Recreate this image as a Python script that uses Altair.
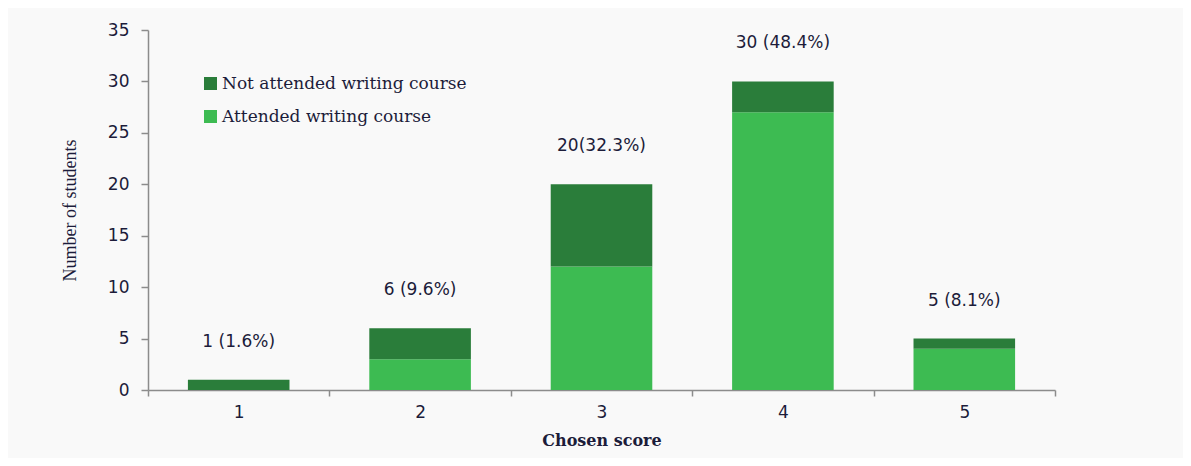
import altair as alt
import pandas as pd

scores = ["1", "2", "3", "4", "5"]
attended = [0, 3, 12, 27, 4]
not_attended = [1, 3, 8, 3, 1]
bar_labels = ["1 (1.6%)", "6 (9.6%)", "20(32.3%)", "30 (48.4%)", "5 (8.1%)"]
series = ["Not attended writing course", "Attended writing course"]
colors = ["#2a7d3a", "#3dbb52"]

rows = []
for s, a, n in zip(scores, attended, not_attended):
    rows.append({"score": s, "group": series[1], "count": a, "ord": 0})
    rows.append({"score": s, "group": series[0], "count": n, "ord": 1})
df = pd.DataFrame(rows)

lab = pd.DataFrame({
    "score": scores,
    "total": [a + n for a, n in zip(attended, not_attended)],
    "label": bar_labels,
})

TXT = "#1c1c3a"

x_enc = alt.X(
    "score:O",
    title="Chosen score",
    scale=alt.Scale(paddingInner=0, paddingOuter=0),
    axis=alt.Axis(
        labelAngle=0, tickBand="extent", tickSize=6, labelPadding=8,
        labelFont="DejaVu Sans", labelFontSize=17, labelColor=TXT,
        titleFont="DejaVu Serif", titleFontSize=16, titleFontWeight="bold",
        titleColor=TXT, titlePadding=12,
        domainColor="#8c8c8c", tickColor="#8c8c8c", domainWidth=1.5, tickWidth=1.5,
    ),
)

bars = alt.Chart(df).mark_bar(width=alt.RelativeBandSize(0.56)).encode(
    x=x_enc,
    y=alt.Y(
        "count:Q",
        title="Number of students",
        scale=alt.Scale(domain=[0, 35], nice=False),
        axis=alt.Axis(
            values=[0, 5, 10, 15, 20, 25, 30, 35], grid=False, tickSize=7,
            labelPadding=12, labelFont="DejaVu Sans", labelFontSize=17,
            labelColor=TXT, titleFont="Liberation Serif", titleFontSize=18,
            titleFontWeight="normal", titleColor=TXT,
            titleX=-78, titleY=180, titleAngle=-90, titleAlign="center",
            titleBaseline="middle",
            domainColor="#8c8c8c", tickColor="#8c8c8c", domainWidth=1.5, tickWidth=1.5,
        ),
    ),
    color=alt.Color(
        "group:N",
        scale=alt.Scale(domain=series, range=colors),
        legend=alt.Legend(
            title=None, orient="none", legendX=54, legendY=45, padding=0,
            symbolType="square", symbolSize=170, symbolStrokeWidth=0,
            labelFont="DejaVu Serif", labelFontSize=17, labelColor=TXT,
            labelOffset=3, rowPadding=15, labelLimit=400,
        ),
    ),
    order=alt.Order("ord:Q", sort="ascending"),
)

text = alt.Chart(lab).mark_text(
    dy=-38, baseline="middle", align="center",
    font="DejaVu Sans", fontSize=17, color=TXT,
).encode(
    x=alt.X("score:O"),
    y=alt.Y("total:Q"),
    text="label:N",
)

chart = alt.layer(bars, text).properties(
    width=907, height=360,
    autosize=alt.AutoSizeParams(type="none"),
    padding={"left": 140, "top": 22, "right": 128, "bottom": 68},
    background="#f9f9f9",
).configure_view(stroke=None)

chart.save("out.html", embed_options={"renderer": "svg", "actions": False})
